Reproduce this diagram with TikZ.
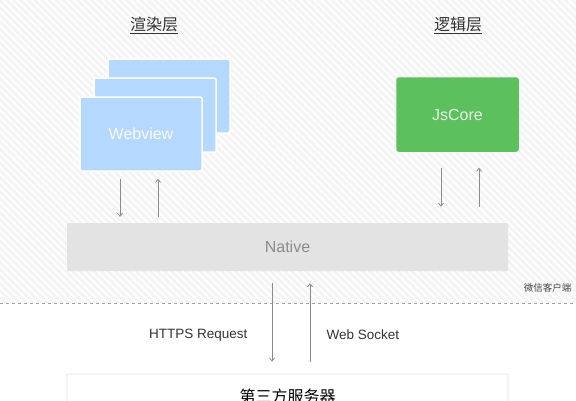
\documentclass[tikz,border=0pt]{standalone}
\usepackage{fontspec}
\setmainfont{Liberation Sans}
\newfontfamily\cjk{Noto Sans CJK SC}
\usetikzlibrary{arrows.meta,patterns.meta}

\definecolor{cardblue}{HTML}{B4D8FE}
\definecolor{coregreen}{HTML}{5CC15D}
\definecolor{nativegray}{HTML}{E3E3E3}
\definecolor{hatchgray}{HTML}{F4F4F4}
\definecolor{txtdark}{HTML}{333333}
\definecolor{arrowgray}{HTML}{8C8C8C}

\tikzset{
  card/.style={fill=cardblue, draw=white, line width=1.5pt, rounded corners=2pt,
    minimum width=122pt, minimum height=74pt, text=white!90!cardblue,
    font=\fontsize{16}{19}\selectfont},
  title/.style={text=txtdark, font=\cjk\fontsize{16}{19}\selectfont},
  flow/.style={draw=arrowgray, line width=0.8pt, -{Straight Barb[length=3pt,width=5pt]}},
  lbl/.style={text=txtdark, font=\fontsize{13.5}{16}\selectfont}
}

\begin{document}
\begin{tikzpicture}[x=1pt,y=-1pt]
      \clip (0,0) rectangle (576,400);
      % BACKGROUND (client side)
      \fill[hatchgray] (0,0) rectangle (576,303);
      \fill[pattern={Lines[angle=-45,distance=5pt,line width=1.8pt]}, pattern color=white]
        (0,0) rectangle (576,303);
      \draw[arrowgray!80, line width=0.7pt, dash pattern=on 3pt off 3pt] (0,303) -- (576,303);
      \node[anchor=east, text=txtdark!90, font=\cjk\fontsize{9.5}{11}\selectfont] (client) at (575,288) {微信客户端};

      % TITLES
      \node[title] (render) at (154,25) {\underline{渲染层}};
      \node[title] (logic)  at (458,25) {\underline{逻辑层}};

      % WEBVIEW stack
      \node[card] (back)  at (169,96)  {};
      \node[card] (mid)   at (155,115) {};
      \node[card] (front) at (141,134) {Webview};

      % JSCORE
      \node[card, fill=coregreen, draw=coregreen, text=white!85!coregreen,
            minimum width=121pt, minimum height=73pt] (jscore) at (457.5,114.5) {JsCore};

      % NATIVE
      \node[fill=nativegray, rounded corners=1pt, minimum width=441pt, minimum height=48pt,
            text=arrowgray, font=\fontsize{16}{19}\selectfont] (native) at (287.5,247) {Native};

      % SERVER
      \node[fill=white, draw=nativegray, line width=0.8pt, rounded corners=1pt,
            minimum width=441pt, minimum height=44pt,
            text=black, font=\cjk\fontsize{16}{19}\selectfont] (server) at (287.5,396) {第三方服务器};

      % ARROWS
      \draw[flow, shorten <=7pt, shorten >=6pt] ([xshift=-21pt]front.south) -- ([xshift=-21pt]front.south |- native.north);
      \draw[flow, shorten <=6pt, shorten >=7pt] ([xshift=17pt]front.south |- native.north) -- ([xshift=17pt]front.south);
      \draw[flow, shorten <=16pt, shorten >=16pt] ([xshift=-16.5pt]jscore.south) -- ([xshift=-16.5pt]jscore.south |- native.north);
      \draw[flow, shorten <=16pt, shorten >=16pt] ([xshift=21.5pt]jscore.south |- native.north) -- ([xshift=21.5pt]jscore.south);
      \draw[flow, shorten <=12pt, shorten >=12pt] ([xshift=-15.5pt]native.south) -- ([xshift=-15.5pt]native.south |- server.north);
      \draw[flow, shorten <=12pt, shorten >=12pt] ([xshift=22.5pt]native.south |- server.north) -- ([xshift=22.5pt]native.south);

      % LABELS
      \node[lbl, anchor=east] (https)  at (251,335) {HTTPS Request};
      \node[lbl, anchor=west] (socket) at (323,335) {Web Socket};
\end{tikzpicture}
\end{document}
